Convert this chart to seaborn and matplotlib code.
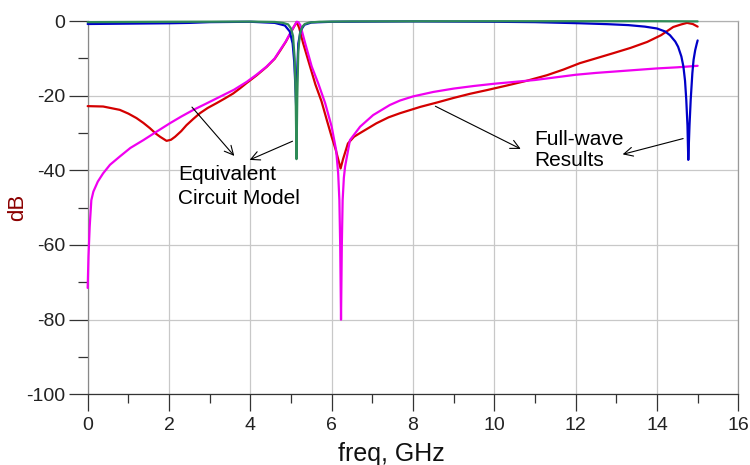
import matplotlib
matplotlib.use("Agg")
import matplotlib.pyplot as plt
import seaborn as sns
import pandas as pd

# ---------------- data ----------------
# Equivalent circuit model, S21 (magenta)
freq_circ_s21 = [0, 0.02, 0.05, 0.09, 0.14, 0.25, 0.38, 0.55, 0.79, 1.05, 1.37, 1.7, 2.02, 2.3,
                 2.6, 2.9, 3.25, 3.6, 3.91, 4.15, 4.4, 4.6, 4.73, 4.87, 4.98, 5.07, 5.14, 5.18,
                 5.23, 5.35, 5.51, 5.67, 5.84, 6.0, 6.11, 6.16, 6.19, 6.21, 6.23, 6.25, 6.27,
                 6.3, 6.33, 6.45, 6.7, 7.02, 7.43, 7.68, 8.0, 8.5, 9.0, 9.5, 10, 10.5, 11,
                 11.5, 12, 12.5, 13, 13.5, 14, 14.5, 15]
db_circ_s21 = [-71.5, -63, -55, -48, -45.7, -43, -40.8, -38.5, -36.3, -34, -31.9, -29.6, -27.4,
               -25.6, -23.8, -22.2, -20.3, -18.4, -16.3, -14.4, -12.2, -10, -7.8, -5.5, -3.3,
               -1.5, -0.2, -0.3, -1.1, -6, -12.2, -16.7, -22, -28.3, -34.6, -40.8, -48, -60,
               -80, -60, -48, -42, -39, -31.9, -28.3, -25.2, -22.5, -21.3, -20.2, -19, -18.1,
               -17.4, -16.8, -16.3, -15.8, -15.1, -14.4, -13.9, -13.5, -13.1, -12.7, -12.4, -12.0]

# Full-wave results, S21 (red)
freq_fw_s21 = [0, 0.38, 0.79, 1.0, 1.2, 1.37, 1.53, 1.68, 1.78, 1.94, 2.05, 2.15, 2.3, 2.43, 2.6,
               2.76, 2.95, 3.17, 3.38, 3.58, 3.75, 3.91, 4.15, 4.4, 4.6, 4.73, 4.87, 4.98, 5.07,
               5.14, 5.2, 5.3, 5.45, 5.6, 5.75, 5.88, 6.0, 6.1, 6.16, 6.22, 6.28, 6.4, 6.55,
               6.7, 6.9, 7.1, 7.4, 7.68, 8.18, 8.6, 9.0, 9.4, 9.82, 10.3, 10.8, 11.3, 11.7,
               12.1, 12.5, 12.93, 13.35, 13.76, 14.1, 14.4, 14.6, 14.74, 14.88, 15.0]
db_fw_s21 = [-22.8, -22.9, -23.8, -24.8, -26, -27.3, -28.7, -30.2, -31, -32.1, -31.8, -31, -29.5,
             -27.9, -26.2, -24.7, -23.3, -22, -20.7, -19.4, -18, -16.6, -14.6, -12.3, -10.1,
             -8.0, -5.6, -3.4, -1.6, -0.3, -1.8, -6, -11.5, -17, -21.5, -26.5, -31, -34.5,
             -37, -39.5, -37, -32.8, -31, -30, -28.7, -27.4, -25.8, -24.7, -23, -21.8, -20.6,
             -19.5, -18.5, -17.3, -16, -14.5, -13, -11.3, -10, -8.6, -7.2, -5.6, -3.8, -1.6,
             -0.9, -0.5, -0.8, -1.5]

# Full-wave results, S11 (blue)
freq_fw_s11 = [0, 1, 2, 2.5, 3, 4, 4.6, 4.85, 4.97, 5.04, 5.08, 5.11, 5.13, 5.15, 5.18, 5.24,
               5.33, 5.5, 6, 8, 10, 11, 12.1, 12.8, 13.3, 13.7, 14.0, 14.2, 14.32, 14.45, 14.52,
               14.6, 14.65, 14.69, 14.72, 14.75, 14.77, 14.8, 14.83, 14.87, 14.9, 14.94, 14.98,
               15.0]
db_fw_s11 = [-0.8, -0.7, -0.6, -0.5, -0.3, -0.2, -0.5, -1.2, -2.8, -6, -11, -18, -24, -14, -6,
             -2.5, -1, -0.4, -0.2, -0.1, -0.2, -0.3, -0.6, -0.85, -1.1, -1.5, -2, -2.8, -3.8,
             -5.5, -6.9, -9.5, -12.2, -16, -21, -28, -37.2, -28, -21, -14, -10.4, -7.8, -6, -5.2]

# Equivalent circuit model, S11 (green)
freq_circ_s11 = [0, 2, 4, 4.6, 4.8, 4.93, 5.0, 5.05, 5.09, 5.115, 5.135, 5.155, 5.18, 5.22, 5.28,
                 5.34, 5.45, 5.7, 6.5, 10, 14, 15]
db_circ_s11 = [-0.3, -0.2, -0.15, -0.25, -0.5, -0.9, -2, -4, -10, -20, -37, -20, -8, -3.3, -1.5,
               -0.8, -0.4, -0.2, -0.1, -0.05, -0.05, -0.1]

x_ticks = [0, 2, 4, 6, 8, 10, 12, 14, 16]
y_ticks = [-100, -80, -60, -40, -20, 0]

# ---------------- styling ----------------
sns.set_style("white")
plt.rcParams["font.family"] = ["Liberation Sans", "DejaVu Sans"]

fig = plt.figure(figsize=(7.5, 4.65), dpi=100)
ax = fig.add_axes([0.1169, 0.152, 0.8675, 0.8028])

series = [
    (freq_fw_s21, db_fw_s21, "#D40000"),
    (freq_circ_s21, db_circ_s21, "#F000F0"),
    (freq_fw_s11, db_fw_s11, "#0000C8"),
    (freq_circ_s11, db_circ_s11, "#2E8B57"),
]
for fx, fy, col in series:
    df = pd.DataFrame({"freq": fx, "dB": fy})
    sns.lineplot(data=df, x="freq", y="dB", ax=ax, color=col, linewidth=1.6,
                 estimator=None, sort=False, clip_on=False, zorder=3)

ax.set_xlim(0, 16)
ax.set_ylim(-100, 0)
ax.set_xticks(x_ticks)
ax.set_yticks(y_ticks)
ax.set_xticks([1, 3, 5, 7, 9, 11, 13, 15], minor=True)
ax.set_yticks([-90, -70, -50, -30, -10], minor=True)
ax.set_xticklabels([str(v) for v in x_ticks])
ax.set_yticklabels([str(v) for v in y_ticks])

ax.grid(True, which="major", color="#C8C8C8", linewidth=0.9)
ax.set_axisbelow(True)

ax.tick_params(axis="x", which="major", direction="out", length=12.5, width=0.9,
               color="#333333", labelsize=14, pad=4, labelcolor="#222222")
ax.tick_params(axis="x", which="minor", direction="out", length=6.5, width=0.9,
               color="#333333")
ax.tick_params(axis="y", which="major", direction="out", length=14, width=0.9,
               color="#333333", labelsize=14, pad=2, labelcolor="#222222")
ax.tick_params(axis="y", which="minor", direction="out", length=7, width=0.9,
               color="#333333")
ax.tick_params(bottom=True, left=True, which="both")

for side, col in [("left", "#888888"), ("bottom", "#333333"),
                  ("top", "#B0B0B0"), ("right", "#999999")]:
    ax.spines[side].set_visible(True)
    ax.spines[side].set_color(col)
    ax.spines[side].set_linewidth(0.9)

ax.set_xlabel("freq, GHz", fontsize=18, color="#111111")
ax.set_ylabel("dB", fontsize=16, color="#8B0000")
ax.xaxis.set_label_coords(0.467, -0.127)
ax.yaxis.set_label_coords(-0.092, 0.5)

# ---------------- annotations ----------------
arrow = dict(arrowstyle="->", color="black", lw=0.8, mutation_scale=16)
ax.annotate("", xy=(3.65, -36.7), xytext=(2.52, -22.5), arrowprops=arrow, zorder=4)
ax.annotate("", xy=(3.92, -37.5), xytext=(5.10, -31.9), arrowprops=arrow, zorder=4)
ax.annotate("", xy=(10.71, -34.6), xytext=(8.49, -22.5), arrowprops=arrow, zorder=4)
ax.annotate("", xy=(13.09, -35.9), xytext=(14.71, -31.3), arrowprops=arrow, zorder=4)

ax.text(2.22, -38.6, "Equivalent\nCircuit Model", fontsize=15, ha="left", va="top",
        linespacing=1.3, color="black", zorder=5)
ax.text(10.98, -29.2, "Full-wave\nResults", fontsize=15, ha="left", va="top",
        linespacing=1.15, color="black", zorder=5)

fig.savefig("out.png", dpi=100)
